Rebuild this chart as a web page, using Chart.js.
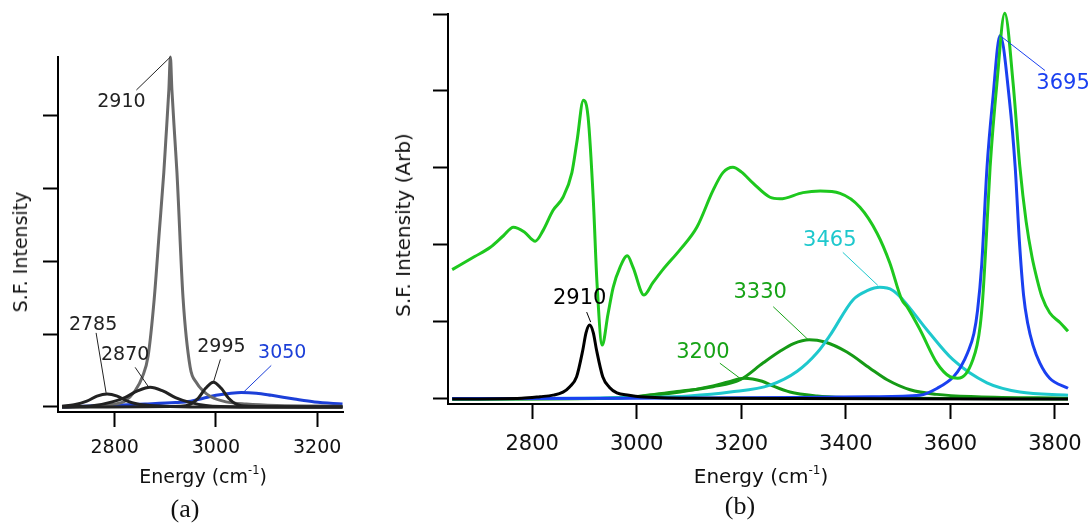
<!DOCTYPE html>
<html lang="en">
<head>
<meta charset="UTF-8">
<title>S.F. Intensity fits</title>
<script src="https://cdn.jsdelivr.net/npm/chart.js"></script>
<style>
    body {
        margin: 0;
        background: #fff;
        font-family: 'DejaVu Sans', sans-serif;
        color: #111;
    }

    #wrap {
        position: relative;
        width: 1091px;
        height: 525px;
        overflow: hidden;
    }

    canvas {
        position: absolute;
        top: 0;
    }

    .ytitle {
        position: absolute;
        white-space: nowrap;
        transform: translate(-50%, -50%) rotate(-90deg);
    }

    .xtitle {
        position: absolute;
        white-space: nowrap;
        transform: translateX(-50%);
        line-height: 1;
    }

    .xtitle sup {
        font-size: 0.6em;
        vertical-align: 0.75em;
        line-height: 0;
    }

    .caption {
        position: absolute;
        transform: translate(-50%, -50%);
        font-family: 'Liberation Serif', serif;
        font-size: 26px;
    }
</style>
</head>
<body>
<div id="wrap">
    <canvas id="chartA" width="360" height="525" style="left:0"></canvas>
    <canvas id="chartB" width="731" height="525" style="left:360px"></canvas>

    <div class="ytitle" style="left:20px; top:252px; font-size:19px">S.F. Intensity</div>
    <div class="xtitle" style="left:203px; top:467px; font-size:19px">Energy (cm<sup>-1</sup>)</div>
    <div class="caption" style="left:185px; top:509px">(a)</div>

    <div class="ytitle" style="left:403px; top:225px; font-size:20px">S.F. Intensity (Arb)</div>
    <div class="xtitle" style="left:761px; top:466px; font-size:20px">Energy (cm<sup>-1</sup>)</div>
    <div class="caption" style="left:740px; top:506px">(b)</div>
</div>

<script>
    // ---- panel (a): CH stretch region ----
    const xTicksA = [2800, 3000, 3200];
    const yTicksA = [0, 1, 2, 3, 4];

    const a2910E = [2696, 2760, 2800, 2820, 2840, 2855, 2866, 2878, 2888, 2897, 2901, 2907, 2910, 2913, 2919, 2923, 2935, 2949, 2962, 2975, 2990, 3020, 3060, 3120, 3250];
    const a2910I = [0, 0.01, 0.04, 0.08, 0.22, 0.42, 0.70, 1.48, 2.40, 3.22, 3.67, 4.36, 4.81, 4.36, 3.67, 3.22, 1.50, 0.55, 0.33, 0.22, 0.14, 0.07, 0.04, 0.02, 0.01];

    const a2785E = [2696, 2720, 2745, 2765, 2785, 2805, 2825, 2845, 2870, 2950, 3250];
    const a2785I = [0.01, 0.03, 0.08, 0.15, 0.18, 0.15, 0.08, 0.04, 0.02, 0, 0];

    const a2870E = [2696, 2760, 2795, 2820, 2845, 2870, 2895, 2920, 2945, 2980, 3050, 3250];
    const a2870I = [0, 0.02, 0.07, 0.13, 0.22, 0.27, 0.22, 0.13, 0.07, 0.02, 0, 0];

    const a2995E = [2696, 2930, 2950, 2965, 2980, 2995, 3010, 3025, 3040, 3065, 3250];
    const a2995I = [0, 0.01, 0.04, 0.12, 0.26, 0.34, 0.26, 0.12, 0.04, 0.01, 0];

    const a3050E = [2696, 2780, 2860, 2920, 2950, 2975, 3000, 3030, 3050, 3080, 3110, 3155, 3195, 3250];
    const a3050I = [0, 0.02, 0.04, 0.06, 0.08, 0.12, 0.16, 0.19, 0.20, 0.19, 0.16, 0.11, 0.07, 0.04];

    // ---- panel (b): full CH + OH region ----
    const xTicksB = [2800, 3000, 3200, 3400, 3600, 3800];
    const yTicksB = [0, 1, 2, 3, 4, 5];

    const specE = [2647, 2690, 2720, 2745, 2764, 2785, 2806, 2821, 2840, 2859, 2876, 2886, 2898, 2907, 2917, 2924, 2934, 2945, 2955, 2968, 2982, 2993, 3014, 3031, 3050, 3083, 3115, 3146, 3165, 3184, 3200, 3223, 3255, 3274, 3318, 3351, 3389, 3427, 3460, 3484, 3507, 3517, 3542, 3574, 3599, 3614, 3630, 3643, 3651, 3657, 3662, 3668, 3676, 3689, 3704, 3720, 3733, 3745, 3756, 3766, 3775, 3790, 3810, 3825];
    const specI = [1.68, 1.85, 1.97, 2.12, 2.23, 2.17, 2.05, 2.19, 2.45, 2.62, 2.94, 3.36, 3.88, 3.66, 2.58, 1.51, 0.70, 1.10, 1.45, 1.71, 1.86, 1.71, 1.35, 1.51, 1.68, 1.94, 2.23, 2.71, 2.94, 3.01, 2.95, 2.80, 2.62, 2.60, 2.68, 2.70, 2.67, 2.49, 2.15, 1.77, 1.29, 1.20, 0.90, 0.47, 0.29, 0.27, 0.33, 0.51, 0.70, 0.95, 1.32, 2.00, 3.01, 4.10, 5.01, 4.10, 3.01, 2.30, 1.85, 1.55, 1.33, 1.12, 0.99, 0.88];

    const b2910E = [2647, 2780, 2815, 2840, 2859, 2872, 2885, 2897, 2903, 2910, 2917, 2923, 2935, 2948, 2962, 2985, 3007, 3100, 3825];
    const b2910I = [0, 0.01, 0.03, 0.05, 0.09, 0.16, 0.29, 0.64, 0.86, 0.96, 0.86, 0.64, 0.29, 0.15, 0.08, 0.05, 0.03, 0.01, 0];

    const b3200E = [2647, 2950, 3020, 3083, 3146, 3175, 3205, 3240, 3260, 3293, 3345, 3400, 3500, 3825];
    const b3200I = [0, 0.01, 0.04, 0.09, 0.17, 0.22, 0.27, 0.23, 0.17, 0.09, 0.04, 0.02, 0.01, 0];

    const b3330E = [2647, 2900, 3000, 3020, 3083, 3146, 3198, 3242, 3274, 3300, 3330, 3360, 3402, 3446, 3479, 3523, 3574, 3650, 3825];
    const b3330I = [0, 0.005, 0.03, 0.05, 0.10, 0.16, 0.25, 0.47, 0.62, 0.72, 0.77, 0.74, 0.61, 0.40, 0.25, 0.12, 0.06, 0.03, 0.01];

    const b3465E = [2647, 2900, 3000, 3100, 3179, 3255, 3307, 3345, 3370, 3414, 3442, 3465, 3490, 3509, 3555, 3605, 3670, 3733, 3825];
    const b3465I = [0, 0.01, 0.02, 0.04, 0.09, 0.18, 0.36, 0.60, 0.83, 1.29, 1.41, 1.45, 1.41, 1.29, 0.90, 0.51, 0.21, 0.09, 0.05];

    const b3695E = [2647, 3000, 3300, 3450, 3542, 3575, 3606, 3620, 3633, 3645, 3652, 3660, 3670, 3681, 3695, 3713, 3724, 3732, 3740, 3748, 3758, 3771, 3790, 3825];
    const b3695I = [0.005, 0.01, 0.02, 0.03, 0.05, 0.14, 0.29, 0.42, 0.60, 0.85, 1.15, 1.75, 3.00, 3.88, 4.72, 3.88, 3.01, 2.05, 1.35, 0.98, 0.70, 0.47, 0.27, 0.14];

    const toPoints = (xs, ys) => xs.map((x, i) => ({ x: x, y: ys[i] }));

    function curve(xs, ys, color, width) {
        return {
            data: toPoints(xs, ys),
            borderColor: color,
            borderWidth: width || 3,
            showLine: true,
            pointRadius: 0,
            cubicInterpolationMode: 'monotone',
            clip: false
        };
    }

    function axes(xRange, yRange, xTicks, yTicks, fontSize, xHeight, pad) {
        return {
            x: {
                type: 'linear',
                min: xRange[0],
                max: xRange[1],
                afterBuildTicks: s => { s.ticks = xTicks.map(v => ({ value: v })); },
                // fixed axis height; end labels may hang past the plot edges
                afterFit: s => {
                    s.height = xHeight;
                    s.paddingLeft = 0;
                    s.paddingRight = 0;
                },
                grid: { drawOnChartArea: false, tickLength: 15, tickColor: '#000', tickWidth: 2 },
                border: { color: '#000', width: 2 },
                ticks: {
                    color: '#111',
                    padding: pad,
                    maxRotation: 0,
                    autoSkip: false,
                    font: { family: 'DejaVu Sans', size: fontSize },
                    callback: v => String(v)
                }
            },
            y: {
                type: 'linear',
                min: yRange[0],
                max: yRange[1],
                afterBuildTicks: s => { s.ticks = yTicks.map(v => ({ value: v })); },
                afterFit: s => {
                    s.width = 20;
                    s.paddingTop = 0;
                    s.paddingBottom = 0;
                },
                grid: { drawOnChartArea: false, tickLength: 15, tickColor: '#000', tickWidth: 2 },
                border: { color: '#000', width: 2 },
                ticks: { display: false }
            }
        };
    }

    // peak labels with a thin leader line pointing at each component's maximum
    const peakLabels = {
        id: 'peakLabels',
        afterDatasetsDraw(chart, args, opts) {
            const { ctx } = chart;
            const xs = chart.scales.x, ys = chart.scales.y;
            opts.items.forEach(it => {
                const pts = chart.data.datasets[it.ds].data;
                const top = pts.reduce((a, b) => (b.y > a.y ? b : a));
                const px = xs.getPixelForValue(top.x);
                const py = ys.getPixelForValue(top.y);
                ctx.save();
                ctx.strokeStyle = it.color;
                ctx.lineWidth = 1;
                ctx.beginPath();
                ctx.moveTo(px + it.from[0], py + it.from[1]);
                ctx.lineTo(px + it.to[0], py + it.to[1]);
                ctx.stroke();
                ctx.fillStyle = it.color;
                ctx.font = opts.size + 'px "DejaVu Sans"';
                ctx.textAlign = 'center';
                ctx.textBaseline = 'middle';
                ctx.fillText(it.text, px + it.at[0], py + it.at[1]);
                ctx.restore();
            });
        }
    };

    new Chart(document.getElementById('chartA'), {
        type: 'scatter',
        data: {
            datasets: [
                curve(a2785E, a2785I, '#222222'),
                curve(a2870E, a2870I, '#222222'),
                curve(a2995E, a2995I, '#222222'),
                curve(a2910E, a2910I, '#6a6a6a'),
                curve(a3050E, a3050I, '#1c3fd8')
            ]
        },
        options: {
            responsive: false,
            animation: false,
            layout: { padding: { left: 38, top: 57, right: 17, bottom: 63 } },
            scales: axes([2688, 3251], [-0.069, 4.81], xTicksA, yTicksA, 19, 50, 10),
            plugins: {
                legend: { display: false },
                tooltip: { enabled: false },
                peakLabels: {
                    size: 19,
                    items: [
                        { ds: 3, text: '2910', color: '#222', at: [-49, 45], from: [-34, 33], to: [0, 0] },
                        { ds: 0, text: '2785', color: '#222', at: [-14, -69], from: [-11, -61], to: [-1, -1] },
                        { ds: 1, text: '2870', color: '#222', at: [-25, -32], from: [-15, -20], to: [-2, -1] },
                        { ds: 2, text: '2995', color: '#222', at: [8, -35], from: [7, -23], to: [0, 0] },
                        { ds: 4, text: '3050', color: '#1c3fd8', at: [41, -39], from: [30, -27], to: [2, 0] }
                    ]
                }
            }
        },
        plugins: [peakLabels]
    });

    new Chart(document.getElementById('chartB'), {
        type: 'scatter',
        data: {
            datasets: [
                curve(b2910E, b2910I, '#000000'),
                curve(specE, specI, '#1ec81e'),
                curve(b3695E, b3695I, '#1a40f0'),
                curve(b3465E, b3465I, '#1ec8cd'),
                curve(b3330E, b3330I, '#159a15'),
                curve(b3200E, b3200I, '#159a15')
            ]
        },
        options: {
            responsive: false,
            animation: false,
            layout: { padding: { left: 68, top: 14, right: 23, bottom: 61 } },
            scales: axes([2639, 3825], [-0.065, 5], xTicksB, yTicksB, 21, 60, 13),
            plugins: {
                legend: { display: false },
                tooltip: { enabled: false },
                peakLabels: {
                    size: 21,
                    items: [
                        { ds: 0, text: '2910', color: '#000', at: [-10, -27], from: [-3, -13], to: [1, -3] },
                        { ds: 5, text: '3200', color: '#17a317', at: [-41, -26], from: [-24, -15], to: [-4, 0] },
                        { ds: 4, text: '3330', color: '#17a317', at: [-49, -47], from: [-36, -33], to: [-1, 0] },
                        { ds: 3, text: '3465', color: '#1ec8cd', at: [-50, -47], from: [-37, -35], to: [-2, -2] },
                        { ds: 2, text: '3695', color: '#1a40f0', at: [63, 48], from: [45, 35], to: [0, 0] }
                    ]
                }
            }
        },
        plugins: [peakLabels]
    });
</script>
</body>
</html>
